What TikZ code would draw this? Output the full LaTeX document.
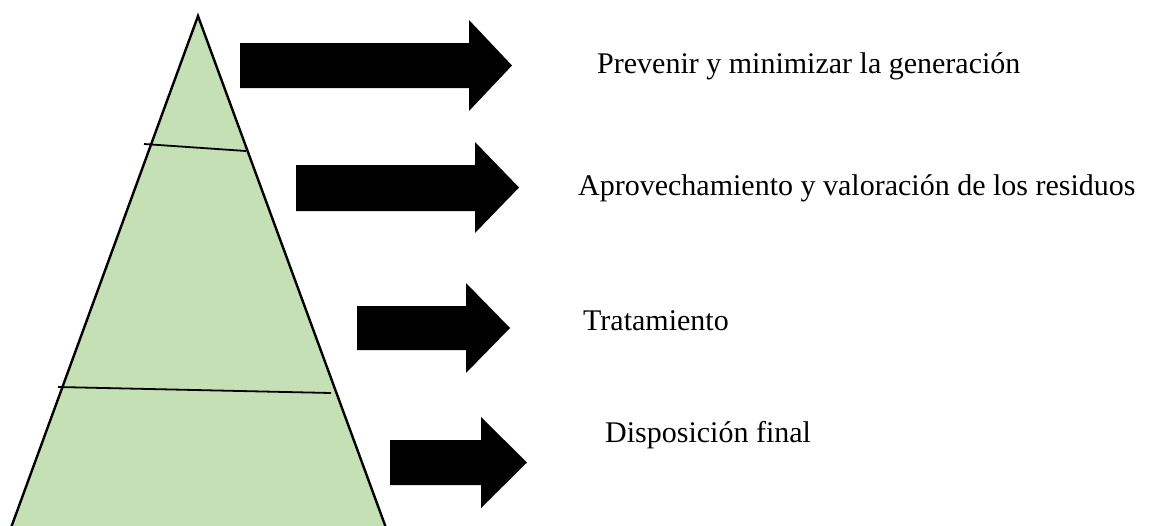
\documentclass[tikz,border=0pt]{standalone}
\usepackage{fontspec}
\setmainfont{Liberation Serif}
\definecolor{pyramidgreen}{RGB}{197, 224, 180}
\usepackage{tikz}

\begin{document}
\begin{tikzpicture}[x=1pt, y=-1pt,
    label/.style={anchor=base west, inner sep=0pt, font=\fontsize{30}{36}\selectfont}]
        \clip (0,0) rectangle (1154,525);
        \fill[white] (0,0) rectangle (1154,525);
        \filldraw[fill=pyramidgreen, draw=black, line width=2.4pt, line join=miter] (10.2,530) -- (198,16) -- (386.8,530) -- cycle;
        \draw[line width=1.8pt] (144,144) -- (246,151);
        \draw[line width=1.8pt] (58,387) -- (331,393);
        \foreach \bl/\bt/\bb/\hs/\ht/\hb/\tx in {240/43/88/469/20/111/512, 296/165/211/475/142/233/519, 357/306/350/466/283/373/510, 390/440/485/481/417/508/527}
          \fill[black] (\bl,\bt) -- (\hs,\bt) -- (\hs,\ht) -- (\tx,{(\ht+\hb)/2}) -- (\hs,\hb) -- (\hs,\bb) -- (\bl,\bb) -- cycle;
        \node[label] (prevenir) at (597,73) {Prevenir y minimizar la generación};
        \node[label] (aprovecha) at (578,195) {Aprovechamiento y valoración de los residuos};
        \node[label] (tratam) at (583,330) {Tratamiento};
        \node[label] (disposicion) at (605,442) {Disposición final};
      \end{tikzpicture}
\end{document}
